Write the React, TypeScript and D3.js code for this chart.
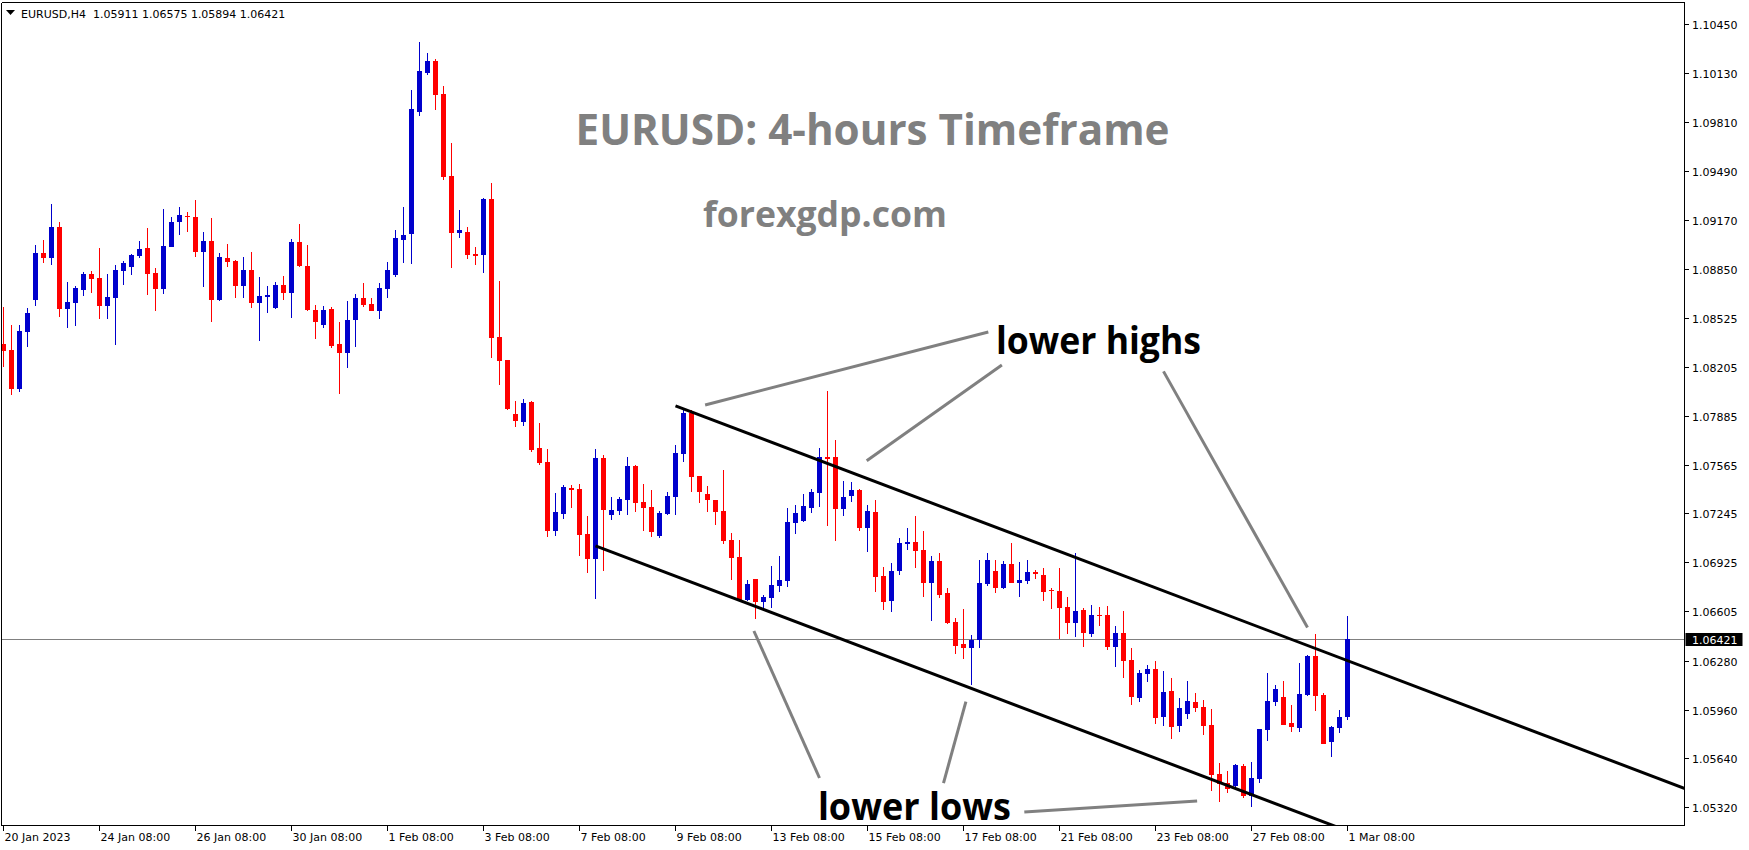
import React, { useEffect } from 'react';
import * as d3 from 'd3';

// ---------- DATA ----------
const headerSymbol = 'EURUSD,H4';
const headerValues = ['1.05911', '1.06575', '1.05894', '1.06421'];

const opens = [1.08356,1.08316,1.08060,1.08434,1.08644,1.08951,1.08919,1.09122,1.08585,1.08624,1.08709,1.08814,1.08788,1.08605,1.08657,1.08834,1.08860,1.08932,1.08985,1.08820,1.08716,1.08991,1.09155,1.09194,1.09187,1.08958,1.09030,1.08644,1.08919,1.08899,1.08736,1.08840,1.08624,1.08663,1.08592,1.08742,1.08689,1.09024,1.08867,1.08578,1.08480,1.08585,1.08356,1.08297,1.08513,1.08657,1.08618,1.08571,1.08716,1.08807,1.09037,1.09076,1.09875,1.10130,1.10209,1.09993,1.09456,1.09083,1.09089,1.08945,1.08938,1.09305,1.08401,1.08251,1.07897,1.07844,1.07975,1.07674,1.07582,1.07130,1.07241,1.07412,1.07405,1.07110,1.06946,1.07608,1.07235,1.07261,1.07333,1.07556,1.07320,1.07287,1.07097,1.07241,1.07353,1.07635,1.07903,1.07490,1.07372,1.07333,1.07261,1.07071,1.06960,1.06678,1.06815,1.06664,1.06691,1.06769,1.06802,1.07182,1.07195,1.07280,1.07379,1.07615,1.07615,1.07274,1.07359,1.07399,1.07150,1.07254,1.06835,1.06671,1.06868,1.07045,1.07058,1.07005,1.06789,1.06933,1.06723,1.06533,1.06389,1.06363,1.06416,1.06783,1.06868,1.06756,1.06914,1.06789,1.06802,1.06861,1.06841,1.06743,1.06737,1.06632,1.06527,1.06612,1.06455,1.06579,1.06579,1.06370,1.06461,1.06285,1.06036,1.06193,1.06226,1.05911,1.06082,1.05852,1.05931,1.06010,1.05977,1.05859,1.05538,1.05479,1.05459,1.05590,1.05394,1.05505,1.05826,1.06010,1.06043,1.05872,1.05839,1.06056,1.06311,1.06056,1.05747,1.05839,1.05911];
const highs = [1.08598,1.08480,1.08480,1.08592,1.09004,1.09037,1.09273,1.09155,1.08762,1.08736,1.08827,1.08834,1.08985,1.08814,1.08873,1.08899,1.08945,1.09030,1.09116,1.08854,1.09240,1.09187,1.09253,1.09220,1.09299,1.09089,1.09181,1.08951,1.09011,1.08906,1.08925,1.08958,1.08794,1.08736,1.08762,1.08801,1.09043,1.09142,1.09004,1.08611,1.08605,1.08598,1.08500,1.08637,1.08683,1.08755,1.08657,1.08755,1.08893,1.09102,1.09253,1.10019,1.10334,1.10261,1.10222,1.10045,1.09672,1.09233,1.09122,1.08991,1.09312,1.09410,1.08768,1.08251,1.07982,1.07995,1.07982,1.07838,1.07667,1.07379,1.07431,1.07431,1.07438,1.07228,1.07667,1.07628,1.07353,1.07353,1.07615,1.07563,1.07438,1.07399,1.07261,1.07385,1.07694,1.07923,1.07923,1.07490,1.07425,1.07333,1.07530,1.07117,1.07071,1.06809,1.06815,1.06710,1.06900,1.06966,1.07280,1.07300,1.07372,1.07405,1.07674,1.08048,1.07726,1.07458,1.07451,1.07405,1.07300,1.07333,1.06894,1.06920,1.07084,1.07150,1.07228,1.07130,1.06966,1.06986,1.06756,1.06560,1.06619,1.06448,1.06940,1.06986,1.06940,1.06933,1.07051,1.06927,1.06940,1.06874,1.06887,1.06756,1.06887,1.06697,1.06986,1.06625,1.06645,1.06632,1.06638,1.06507,1.06605,1.06363,1.06219,1.06252,1.06278,1.06213,1.06167,1.06036,1.06147,1.06069,1.06023,1.05964,1.05610,1.05558,1.05603,1.05603,1.05617,1.05833,1.06200,1.06121,1.06147,1.05990,1.06265,1.06318,1.06455,1.06069,1.05852,1.05957,1.06575];
const lows = [1.08205,1.08021,1.08041,1.08336,1.08605,1.08886,1.08873,1.08532,1.08461,1.08474,1.08670,1.08689,1.08519,1.08519,1.08349,1.08742,1.08807,1.08919,1.08676,1.08571,1.08683,1.08991,1.09069,1.09089,1.08925,1.08729,1.08500,1.08637,1.08860,1.08657,1.08657,1.08592,1.08375,1.08558,1.08585,1.08644,1.08526,1.08860,1.08571,1.08388,1.08461,1.08329,1.08028,1.08198,1.08336,1.08598,1.08571,1.08519,1.08657,1.08794,1.08886,1.08880,1.09849,1.10117,1.09888,1.09430,1.08853,1.09050,1.08912,1.08873,1.08820,1.08264,1.08087,1.07923,1.07811,1.07818,1.07648,1.07563,1.07090,1.07097,1.07208,1.07280,1.06966,1.06854,1.06684,1.06868,1.07202,1.07235,1.07235,1.07254,1.07130,1.07090,1.07084,1.07235,1.07235,1.07582,1.07386,1.07314,1.07254,1.07169,1.07045,1.06809,1.06678,1.06671,1.06553,1.06619,1.06625,1.06730,1.06763,1.07110,1.07189,1.07248,1.07287,1.07162,1.07064,1.07228,1.07320,1.07130,1.06992,1.06730,1.06612,1.06599,1.06841,1.07005,1.06887,1.06697,1.06540,1.06691,1.06520,1.06324,1.06291,1.06121,1.06363,1.06769,1.06723,1.06750,1.06789,1.06697,1.06783,1.06815,1.06671,1.06619,1.06422,1.06455,1.06435,1.06370,1.06435,1.06507,1.06350,1.06239,1.06167,1.05990,1.06010,1.06141,1.05865,1.05852,1.05767,1.05813,1.05898,1.05944,1.05793,1.05427,1.05355,1.05413,1.05433,1.05381,1.05322,1.05479,1.05754,1.05984,1.05859,1.05813,1.05813,1.06049,1.05950,1.05734,1.05649,1.05806,1.05894];
const closes = [1.08309,1.08060,1.08440,1.08558,1.08951,1.08919,1.09122,1.08585,1.08631,1.08723,1.08814,1.08781,1.08605,1.08663,1.08840,1.08886,1.08938,1.08978,1.08814,1.08716,1.08998,1.09155,1.09200,1.09187,1.08958,1.09030,1.08644,1.08925,1.08893,1.08736,1.08840,1.08624,1.08670,1.08677,1.08742,1.08689,1.09024,1.08867,1.08578,1.08500,1.08578,1.08342,1.08297,1.08513,1.08657,1.08611,1.08571,1.08723,1.08840,1.09050,1.09069,1.09895,1.10143,1.10209,1.09986,1.09450,1.09083,1.09102,1.08938,1.08932,1.09305,1.08395,1.08244,1.07929,1.07851,1.07969,1.07661,1.07576,1.07130,1.07254,1.07418,1.07399,1.07103,1.06946,1.07608,1.07267,1.07267,1.07340,1.07556,1.07313,1.07280,1.07123,1.07248,1.07359,1.07641,1.07903,1.07484,1.07386,1.07333,1.07254,1.07064,1.06953,1.06678,1.06783,1.06664,1.06697,1.06776,1.06809,1.07189,1.07248,1.07294,1.07385,1.07615,1.07602,1.07274,1.07353,1.07399,1.07150,1.07261,1.06828,1.06664,1.06868,1.07051,1.07058,1.06999,1.06789,1.06933,1.06710,1.06527,1.06376,1.06363,1.06416,1.06789,1.06940,1.06756,1.06914,1.06789,1.06809,1.06861,1.06848,1.06730,1.06737,1.06625,1.06527,1.06605,1.06461,1.06579,1.06573,1.06370,1.06461,1.06278,1.06042,1.06200,1.06226,1.05905,1.06075,1.05846,1.05970,1.06016,1.05970,1.05852,1.05532,1.05473,1.05440,1.05597,1.05394,1.05512,1.05833,1.06016,1.06095,1.05859,1.05846,1.06062,1.06311,1.06049,1.05734,1.05846,1.05911,1.06421];

const priceTicks = [1.10450,1.10130,1.09810,1.09490,1.09170,1.08850,1.08525,1.08205,1.07885,1.07565,1.07245,1.06925,1.06605,1.06280,1.05960,1.05640,1.05320];

const dateTickIndex = [0,12,24,36,48,60,72,84,96,108,120,132,144,156,168];
const dateTickLabels = ['20 Jan 2023','24 Jan 08:00','26 Jan 08:00','30 Jan 08:00','1 Feb 08:00','3 Feb 08:00','7 Feb 08:00','9 Feb 08:00','13 Feb 08:00','15 Feb 08:00','17 Feb 08:00','21 Feb 08:00','23 Feb 08:00','27 Feb 08:00','1 Mar 08:00'];

const currentPrice = 1.06421;

// channel lines: [barIndex, price]
const upperChannel = [[84, 1.07950], [168, 1.06281]];
const lowerChannel = [[74, 1.07033], [168, 1.05165]];

// annotation pointer lines: [barIndex, price] pairs
const highPointers = [
  [[87.7, 1.07956], [123.1, 1.08434]],
  [[107.9, 1.07591], [124.8, 1.08218]],
  [[145.0, 1.08176], [163.0, 1.06498]],
];
const lowPointers = [
  [[93.8, 1.06475], [102.0, 1.05512]],
  [[120.3, 1.06012], [117.5, 1.05479]],
  [[127.6, 1.05289], [149.2, 1.05361]],
];

const titleText = 'EURUSD: 4-hours Timeframe';
const siteText = 'forexgdp.com';
const highsLabel = 'lower highs';
const lowsLabel = 'lower lows';

// ---------- LAYOUT ----------
const W = 1749;
const H = 850;
const plotLeft = 1.5;
const plotRight = 1684.5;
const plotTop = 2.5;
const plotBottom = 825.5;

const BLUE = '#0000CC';
const RED = '#FF0000';
const GREY = '#808080';
const SMALL_FONT = "'DejaVu Sans', Tahoma, sans-serif";
const BIG_FONT = "'Open Sans', 'Noto Sans', sans-serif";

export default function App() {
  useEffect(() => {
    document.body.style.margin = '0';
  }, []);

  const xScale = d3.scaleLinear().domain([0, 168]).range([3.5, 1347.5]);
  const yScale = d3.scaleLinear().domain([1.0532, 1.1045]).range([807.3, 24.3]);

  const line = d3
    .line<number[]>()
    .x((d) => xScale(d[0]))
    .y((d) => yScale(d[1]));

  const extend = (seg: number[][]) => {
    const [a, b] = seg;
    const slope = (b[1] - a[1]) / (b[0] - a[0]);
    const endIdx = xScale.invert(plotRight + 5);
    return [a, [endIdx, a[1] + slope * (endIdx - a[0])]];
  };

  const candles = closes.map((c, i) => ({
    i,
    o: opens[i],
    h: highs[i],
    l: lows[i],
    c,
  }));

  const curY = Math.round(yScale(currentPrice)) + 0.5;

  return (
    <svg
      width={W}
      height={H}
      viewBox={`0 0 ${W} ${H}`}
      style={{ position: 'absolute', left: 0, top: 0, display: 'block', background: '#fff' }}
    >
      <defs>
        <clipPath id="plotClip">
          <rect x={plotLeft} y={plotTop} width={plotRight - plotLeft} height={plotBottom - plotTop} />
        </clipPath>
      </defs>
      <rect x={0} y={0} width={W} height={H} fill="#fff" />

      {/* current price line */}
      <line x1={plotLeft} x2={plotRight} y1={curY} y2={curY} stroke={GREY} strokeWidth={1} />

      {/* title texts */}
      <text x={575.5} y={145} fontFamily={BIG_FONT} fontWeight={700} fontSize={43} fill={GREY}
        textLength={594} lengthAdjust="spacingAndGlyphs">{titleText}</text>
      <text x={703} y={227} fontFamily={BIG_FONT} fontWeight={700} fontSize={35.5} fill={GREY}
        textLength={244} lengthAdjust="spacingAndGlyphs">{siteText}</text>

      {/* candles */}
      <g shapeRendering="crispEdges">
        {candles.map((d) => {
          const cx = xScale(d.i);
          const up = d.c > d.o;
          const col = up ? BLUE : RED;
          const yTop = yScale(Math.max(d.o, d.c));
          const yBot = yScale(Math.min(d.o, d.c));
          const bh = Math.max(1, yBot - yTop);
          return (
            <g key={d.i}>
              <rect x={cx - 0.5} y={yScale(d.h)} width={1} height={Math.max(1, yScale(d.l) - yScale(d.h))} fill={col} />
              <rect x={cx - 2.5} y={yTop} width={5} height={bh} fill={col} />
            </g>
          );
        })}
      </g>

      {/* channel lines */}
      <g clipPath="url(#plotClip)">
        <path d={line(extend(upperChannel)) || ''} stroke="#000" strokeWidth={3} fill="none" />
        <path d={line(extend(lowerChannel)) || ''} stroke="#000" strokeWidth={3} fill="none" />
      </g>

      {/* pointer lines */}
      {highPointers.concat(lowPointers).map((seg, k) => (
        <path key={k} d={line(seg) || ''} stroke={GREY} strokeWidth={3} fill="none" />
      ))}

      {/* annotation labels */}
      <text x={xScale(124.06)} y={yScale(1.0829)} fontFamily={BIG_FONT} fontWeight={700} fontSize={37}
        fill="#000" textLength={205} lengthAdjust="spacingAndGlyphs">{highsLabel}</text>
      <text x={xScale(101.8)} y={yScale(1.05237)} fontFamily={BIG_FONT} fontWeight={700} fontSize={37}
        fill="#000" textLength={193} lengthAdjust="spacingAndGlyphs">{lowsLabel}</text>

      {/* frame */}
      <g shapeRendering="crispEdges" stroke="#000" strokeWidth={1}>
        <line x1={plotLeft} x2={plotRight} y1={plotTop} y2={plotTop} />
        <line x1={plotRight} x2={plotRight} y1={plotTop} y2={plotBottom} />
        <line x1={plotLeft} x2={plotRight} y1={plotBottom} y2={plotBottom} />
        <line x1={plotLeft} x2={plotLeft} y1={plotTop} y2={plotBottom} />
      </g>

      {/* header */}
      <path d="M6,10 L15,10 L10.5,15 Z" fill="#000" />
      <text x={21} y={17.5} fontFamily={SMALL_FONT} fontSize={11} fill="#000" style={{ whiteSpace: 'pre' }}>
        {headerSymbol + '  ' + headerValues.join(' ')}
      </text>

      {/* right price axis */}
      <g fontFamily={SMALL_FONT} fontSize={11} fill="#000">
        {priceTicks.map((p) => {
          const y = Math.round(yScale(p)) + 0.5;
          return (
            <g key={p}>
              <line x1={plotRight} x2={plotRight + 4} y1={y} y2={y} stroke="#000" shapeRendering="crispEdges" />
              <text x={1692} y={y + 4}>{p.toFixed(5)}</text>
            </g>
          );
        })}
      </g>
      {/* current price tag */}
      <rect x={plotRight + 1} y={curY - 6.5} width={57} height={13} fill="#000" />
      <text x={1692} y={curY + 4} fontFamily={SMALL_FONT} fontSize={11} fill="#fff">{currentPrice.toFixed(5)}</text>

      {/* time axis */}
      <g fontFamily={SMALL_FONT} fontSize={11} fill="#000">
        {dateTickIndex.map((idx, k) => {
          const x = Math.round(xScale(idx)) - 0.5;
          return (
            <g key={idx}>
              <line x1={x} x2={x} y1={plotBottom} y2={plotBottom + 5} stroke="#000" shapeRendering="crispEdges" />
              <text x={x + 1} y={840.5}>{dateTickLabels[k]}</text>
            </g>
          );
        })}
      </g>
    </svg>
  );
}
